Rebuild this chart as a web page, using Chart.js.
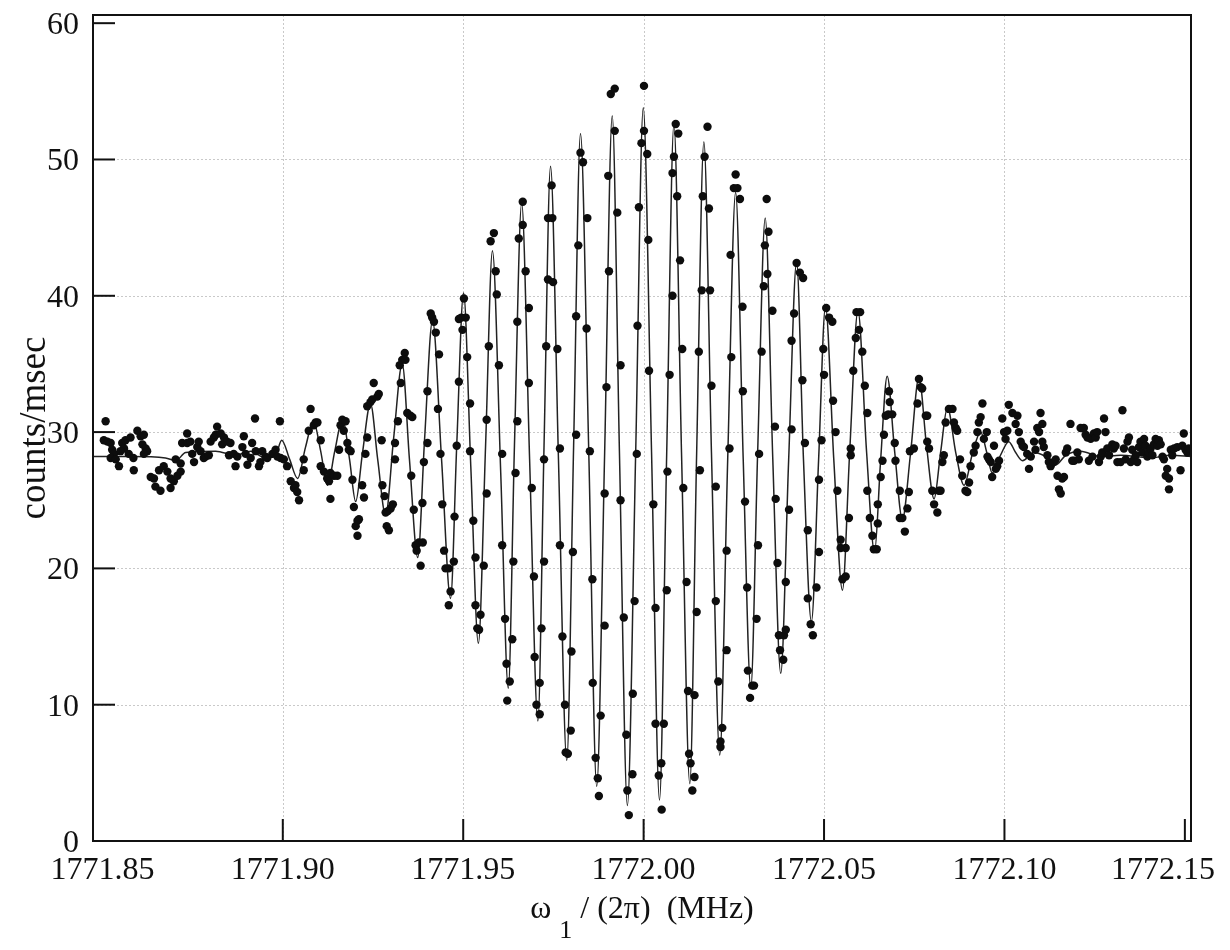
<!DOCTYPE html>
<html>
<head>
<meta charset="utf-8">
<script src="https://cdn.jsdelivr.net/npm/chart.js@4/dist/chart.umd.min.js"></script>
<style>
html,body{margin:0;padding:0;background:#fff;}
canvas{display:block;}
</style>
</head>
<body>
<canvas id="c" width="1230" height="950"></canvas>
<script>
// ---- data ----
const freq = [
1771.8509,1771.8504,1771.8514,1771.8523,1771.8527,1771.8532,1771.8523,1771.8537,1771.8546,1771.8555,
1771.8560,1771.8550,1771.8564,1771.8578,1771.8573,1771.8586,1771.8587,1771.8597,1771.8606,1771.8615,
1771.8611,1771.8620,1771.8624,1771.8615,1771.8634,1771.8643,1771.8647,1771.8661,1771.8657,1771.8670,
1771.8680,1771.8689,1771.8689,1771.8698,1771.8708,1771.8717,1771.8703,1771.8717,1771.8721,1771.8735,
1771.8735,1771.8744,1771.8754,1771.8749,1771.8763,1771.8767,1771.8772,1771.8781,1771.8786,1771.8795,
1771.8800,1771.8809,1771.8818,1771.8814,1771.8828,1771.8832,1771.8837,1771.8846,1771.8855,1771.8851,
1771.8864,1771.8869,1771.8874,1771.8888,1771.8892,1771.8897,1771.8902,1771.8911,1771.8915,1771.8923,
1771.8925,1771.8934,1771.8938,1771.8943,1771.8952,1771.8957,1771.8971,1771.8980,1771.8985,1771.8992,
1771.8994,1771.9003,1771.9012,1771.9022,1771.9031,1771.9035,1771.9045,1771.9040,1771.9058,1771.9058,
1771.9072,1771.9077,1771.9086,1771.9091,1771.9096,1771.9105,1771.9105,1771.9114,1771.9123,1771.9128,
1771.9132,1771.9132,1771.9142,1771.9151,1771.9156,1771.9160,1771.9165,1771.9169,1771.9174,1771.9179,
1771.9183,1771.9188,1771.9193,1771.9197,1771.9202,1771.9207,1771.9207,1771.9211,1771.9220,1771.9225,
1771.9229,1771.9234,1771.9234,1771.9243,1771.9248,1771.9252,1771.9262,1771.9266,
1771.9274,1771.9276,1771.9282,1771.9285,1771.9288,1771.9294,1771.9291,1771.9299,1771.9305,1771.9311,
1771.9311,1771.9319,1771.9327,1771.9324,1771.9331,1771.9338,1771.9340,1771.9345,1771.9354,1771.9359,
1771.9356,1771.9363,1771.9368,1771.9371,1771.9377,1771.9382,1771.9388,1771.9387,1771.9391,1771.9401,
1771.9401,1771.9410,1771.9414,1771.9419,1771.9424,1771.9433,1771.9430,1771.9437,1771.9442,1771.9447,
1771.9451,1771.9460,1771.9465,1771.9460,1771.9474,1771.9476,1771.9482,1771.9488,1771.9488,1771.9495,
1771.9498,1771.9502,1771.9507,1771.9511,1771.9519,1771.9519,1771.9528,1771.9534,1771.9534,1771.9539,
1771.9544,1771.9548,1771.9557,1771.9565,1771.9565,1771.9571,1771.9576,1771.9585,1771.9590,1771.9593,
1771.9599,1771.9608,1771.9608,1771.9616,1771.9620,1771.9622,1771.9629,1771.9636,1771.9639,1771.9645,
1771.9650,1771.9650,1771.9654,
1771.9665,1771.9665,1771.9673,1771.9682,1771.9682,1771.9690,1771.9696,1771.9698,1771.9703,1771.9712,
1771.9712,1771.9717,1771.9724,1771.9724,1771.9730,1771.9735,1771.9747,1771.9735,1771.9749,1771.9745,
1771.9761,1771.9768,1771.9768,1771.9775,1771.9782,1771.9784,1771.9790,1771.9798,1771.9800,1771.9804,
1771.9813,1771.9813,1771.9819,1771.9825,1771.9832,1771.9844,1771.9842,1771.9851,1771.9858,1771.9859,
1771.9867,1771.9873,1771.9876,1771.9881,1771.9892,1771.9892,1771.9897,1771.9904,1771.9902,1771.9909,
1771.9920,1771.9920,1771.9927,1771.9936,1771.9936,1771.9945,1771.9952,1771.9955,1771.9959,1771.9969,
1771.9970,1771.9975,1771.9981,1771.9983,1771.9987,1771.9994,1772.0001,1772.0001,1772.0010,1772.0013,
1772.0015,
1772.0027,1772.0033,1772.0033,1772.0042,1772.0049,1772.0050,1772.0056,1772.0064,1772.0066,1772.0072,
1772.0080,1772.0080,1772.0084,1772.0089,1772.0096,1772.0093,1772.0101,1772.0107,1772.0110,1772.0119,
1772.0123,1772.0126,1772.0130,1772.0135,1772.0141,1772.0141,1772.0147,1772.0156,1772.0153,1772.0161,
1772.0164,1772.0169,1772.0177,1772.0184,1772.0181,1772.0188,1772.0200,1772.0200,1772.0207,1772.0213,
1772.0213,1772.0218,1772.0230,1772.0230,1772.0238,1772.0243,1772.0241,1772.0250,1772.0255,1772.0260,
1772.0267,1772.0274,1772.0275,1772.0281,1772.0287,1772.0289,1772.0295,1772.0301,1772.0306,1772.0313,
1772.0317,1772.0320,1772.0327,1772.0333,1772.0336,1772.0341,1772.0343,1772.0346,1772.0357,1772.0364,
1772.0366,1772.0371,1772.0375,1772.0378,
1772.0387,1772.0389,1772.0394,1772.0394,1772.0403,1772.0410,1772.0410,1772.0417,1772.0424,1772.0433,
1772.0442,1772.0440,1772.0447,1772.0455,1772.0455,1772.0463,1772.0469,1772.0479,1772.0486,1772.0486,
1772.0493,1772.0500,1772.0498,1772.0506,1772.0514,1772.0523,1772.0525,1772.0532,1772.0537,1772.0546,
1772.0546,1772.0551,1772.0560,1772.0560,1772.0569,1772.0574,1772.0574,1772.0581,1772.0588,1772.0590,
1772.0600,1772.0597,1772.0606,1772.0613,1772.0620,1772.0620,1772.0627,1772.0634,1772.0638,1772.0646,
1772.0649,1772.0649,1772.0657,1772.0662,1772.0666,1772.0671,1772.0678,1772.0680,1772.0682,1772.0689,
1772.0696,1772.0698,1772.0710,1772.0710,1772.0717,1772.0724,1772.0731,1772.0735,1772.0738,
1772.0749,1772.0759,1772.0763,1772.0768,1772.0772,1772.0782,1772.0786,1772.0786,1772.0791,1772.0800,
1772.0805,1772.0814,1772.0818,1772.0823,1772.0828,1772.0832,1772.0837,1772.0846,1772.0856,1772.0860,
1772.0865,1772.0869,1772.0877,1772.0883,1772.0892,1772.0897,1772.0902,1772.0906,1772.0915,1772.0920,
1772.0925,1772.0929,1772.0934,1772.0939,1772.0943,1772.0951,1772.0953,1772.0957,1772.0962,1772.0966,
1772.0971,1772.0976,1772.0980,1772.0985,1772.0994,1772.0999,1772.1003,1772.1008,1772.1012,1772.1022,
1772.1031,1772.1036,1772.1040,1772.1045,1772.1050,1772.1054,1772.1063,1772.1068,1772.1073,1772.1082,
1772.1086,1772.1091,1772.1096,1772.1100,1772.1105,1772.1105,1772.1109,1772.1119,1772.1123,1772.1128,
1772.1137,1772.1142,1772.1147,1772.1151,1772.1156,1772.1160,1772.1165,1772.1170,1772.1174,1772.1183,
1772.1188,1772.1193,1772.1202,1772.1206,1772.1211,1772.1220,1772.1225,1772.1230,1772.1234,1772.1239,
1772.1244,1772.1248,1772.1253,1772.1257,1772.1262,1772.1267,1772.1271,1772.1276,1772.1280,1772.1285,
1772.1290,1772.1299,1772.1303,1772.1308,1772.1313,1772.1322,1772.1327,1772.1331,1772.1336,1772.1341,
1772.1345,1772.1350,1772.1354,1772.1359,1772.1364,1772.1368,1772.1373,1772.1377,1772.1382,1772.1387,
1772.1391,1772.1396,1772.1400,1772.1405,1772.1410,1772.1414,1772.1419,1772.1424,1772.1428,1772.1433,
1772.1438,1772.1442,1772.1447,1772.1451,1772.1456,1772.1456,1772.1461,1772.1465,1772.1470,1772.1479,
1772.1488,1772.1493,1772.1497,1772.1502,1772.1507,1772.1511
];
const counts = [
30.8,29.4,29.3,29.2,28.7,28.4,28.1,28.0,27.5,29.2,
28.8,28.6,29.4,29.6,28.4,28.1,27.2,30.1,29.7,29.8,
29.1,28.8,28.6,28.4,26.7,26.6,26.0,25.7,27.2,27.5,
27.1,26.6,25.9,26.4,26.8,27.1,28.0,27.7,29.2,29.9,
29.2,29.3,27.8,28.4,28.9,29.3,28.6,28.1,28.2,28.3,
29.3,29.6,30.4,29.8,29.9,29.1,29.6,29.3,29.2,28.3,
28.4,27.5,28.2,28.9,29.7,28.4,27.6,28.1,29.2,31.0,
28.6,27.5,27.8,28.6,28.2,28.1,28.4,28.7,28.2,30.8,
28.1,28.0,27.5,26.4,25.9,26.1,25.0,25.6,28.0,27.2,
30.1,31.7,30.5,30.7,30.7,29.4,27.5,27.1,26.6,26.4,
27.0,25.1,26.8,26.8,28.7,30.5,30.9,30.1,30.8,29.2,
28.7,28.6,26.5,24.5,23.1,23.5,22.4,23.6,26.1,25.2,
28.4,29.6,31.9,32.2,32.4,33.6,32.6,32.8,
29.4,26.1,25.3,24.1,23.1,22.8,24.2,24.4,24.7,28.0,
29.2,30.8,33.6,34.9,35.3,35.8,35.3,31.4,31.2,31.1,
26.8,24.3,21.7,21.3,21.9,20.2,21.9,24.8,27.8,29.2,
33.0,38.7,38.4,38.1,37.3,35.7,31.7,28.4,24.7,21.3,
20.0,20.0,18.3,17.3,20.5,23.8,29.0,33.7,38.3,38.4,
37.5,39.8,38.4,35.5,32.1,28.6,23.5,20.8,17.3,15.6,
15.5,16.6,20.2,25.5,30.9,36.3,44.0,44.6,41.8,40.1,
34.9,28.4,21.7,16.3,13.0,10.3,11.7,14.8,20.5,27.0,
30.8,38.1,44.2,
46.9,45.2,41.8,39.1,33.6,25.9,19.4,13.5,10.0,9.3,
11.6,15.6,20.5,28.0,36.3,45.7,45.7,41.2,41.0,48.1,
36.1,28.8,21.7,15.0,10.0,6.5,6.4,8.1,13.9,21.2,
29.8,38.5,43.7,50.5,49.8,45.7,37.6,28.6,19.2,11.6,
6.1,4.6,3.3,9.2,15.8,25.5,33.3,41.8,48.8,54.8,
55.2,52.1,46.1,34.9,25.0,16.4,7.8,3.7,1.9,4.9,
10.8,17.6,28.4,37.8,46.5,51.2,55.4,52.1,50.4,44.1,
34.5,
24.7,17.1,8.6,4.8,5.7,2.3,8.6,18.4,27.1,34.2,
40.0,49.0,50.2,52.6,51.9,47.3,42.6,36.1,25.9,19.0,
11.0,6.4,5.7,3.7,10.7,4.7,16.8,27.2,35.9,40.4,
47.3,50.2,52.4,40.4,46.4,33.4,26.0,17.6,11.7,7.3,
6.9,8.3,14.0,21.3,28.8,35.5,43.0,47.9,48.9,47.9,
47.1,39.2,33.0,24.9,18.6,12.5,10.5,11.4,11.4,16.3,
21.7,28.4,35.9,40.7,43.7,47.1,41.6,44.7,38.9,30.4,
25.1,20.4,15.1,14.0,
13.3,15.1,15.5,19.0,24.3,30.2,36.7,38.7,42.4,41.7,
41.3,33.8,29.2,22.8,17.8,15.9,15.1,18.6,21.2,26.5,
29.4,34.2,36.1,39.1,38.4,38.1,32.3,30.0,25.7,22.1,
21.5,19.2,19.4,21.5,23.7,28.3,28.8,34.5,36.9,38.8,
38.8,37.5,35.9,33.4,31.4,25.7,23.7,22.4,21.4,21.4,
23.3,24.7,26.7,27.9,29.8,31.2,31.3,33.0,32.2,31.3,
29.2,27.9,25.7,23.7,23.7,22.7,24.4,25.6,28.6,
28.8,32.1,33.9,33.3,33.2,31.2,31.2,29.3,28.8,25.7,
24.7,24.1,25.7,25.7,27.8,28.3,30.7,31.7,31.7,30.7,
30.3,30.1,28.0,26.8,25.7,25.6,26.3,27.5,28.5,29.0,
30.0,30.7,31.1,32.1,29.5,30.0,28.2,28.0,27.8,26.7,
29.0,27.3,27.5,27.9,31.0,30.0,29.5,30.1,32.0,31.4,
30.6,31.2,30.0,29.3,29.0,28.9,28.4,27.3,28.2,29.3,
28.7,30.3,30.0,31.4,30.6,29.3,28.9,28.3,27.8,27.5,
27.8,28.0,26.8,25.8,25.5,26.6,26.7,28.5,28.8,30.6,
27.9,27.9,28.5,28.0,30.3,30.3,29.8,29.6,27.9,29.5,
28.2,29.9,29.6,30.0,27.8,28.2,28.5,31.0,30.0,28.8,
28.3,29.1,28.8,29.0,27.8,27.8,31.6,28.8,28.0,29.3,
29.6,27.8,28.7,28.0,28.3,27.8,28.9,29.3,28.5,29.5,
29.0,28.2,28.5,28.8,28.3,29.1,29.5,29.0,29.4,29.1,
28.2,28.0,26.8,27.3,26.6,25.8,28.7,28.3,28.8,28.9,
27.2,29.0,29.9,28.7,28.5,28.8
];
// fitted line (theory curve)
const fitFreq = [
1771.8476,1771.8578,1771.8675,1771.8703,1771.8731,1771.8814,1771.8869,1771.8911,1771.8952,1771.8980,
1771.8997,1771.9019,1771.9041,1771.9063,1771.9085,1771.9105,1771.9124,1771.9144,1771.9166,1771.9185,
1771.9202,1771.9221,1771.9243,1771.9263,1771.9285,1771.9307,1771.9331,1771.9351,1771.9374,1771.9393,
1771.9415,1771.9440,1771.9465,1771.9482,1771.9501,1771.9521,1771.9542,1771.9562,1771.9581,1771.9604,
1771.9625,1771.9642,1771.9662,1771.9684,1771.9707,1771.9724,1771.9742,1771.9764,1771.9787,1771.9806,
1771.9825,1771.9848,1771.9870,1771.9892,1771.9913,1771.9933,1771.9955,1771.9978,1771.9999,1772.0022,
1772.0044,1772.0064,1772.0084,1772.0105,1772.0128,1772.0147,1772.0167,1772.0188,1772.0211,1772.0233,
1772.0255,1772.0276,1772.0297,1772.0316,1772.0337,1772.0358,1772.0380,1772.0402,1772.0424,1772.0443,
1772.0465,1772.0485,1772.0504,1772.0527,1772.0551,1772.0571,1772.0594,1772.0618,1772.0640,1772.0657,
1772.0675,1772.0696,1772.0717,1772.0740,1772.0763,1772.0784,1772.0805,1772.0823,1772.0842,1772.0865,
1772.0888,1772.0912,1772.0934,1772.0951,1772.0966,1772.0989,1772.1012,1772.1031,1772.1050,1772.1081,
1772.1114,1772.1142,1772.1170,1772.1211,1772.1267,1772.1322,1772.1405,1772.1461,1772.1517
];
const fitCounts = [
28.2,28.2,28.1,27.9,28.5,28.6,28.3,28.6,28.1,28.3,
29.4,28.0,26.6,28.9,30.8,28.6,26.1,28.6,31.0,28.0,
24.9,28.5,32.1,28.0,23.9,29.5,35.0,28.0,20.8,29.5,
38.2,28.0,17.8,29.0,40.2,27.5,14.5,29.0,43.3,27.0,
11.2,29.0,46.8,28.0,8.8,29.0,49.5,28.0,5.9,29.0,
51.9,28.5,4.0,28.5,53.2,28.5,2.6,28.5,53.8,28.5,
3.0,28.5,52.6,28.5,4.2,28.5,51.3,28.5,6.3,28.0,
47.6,28.0,11.2,28.5,45.7,28.0,12.3,28.0,42.5,28.0,
16.1,28.0,39.2,28.0,18.4,28.5,38.9,28.5,21.2,28.0,
34.1,28.5,23.6,28.5,34.0,29.0,25.1,28.5,31.8,28.5,
26.1,28.5,30.0,28.5,27.0,28.3,29.3,28.5,27.9,28.5,
28.2,27.6,28.3,28.6,28.2,28.3,28.1,28.3,28.2
];
// axes
const xMin = 1771.8474, xMax = 1772.1517;
const yMin = 0, yMax = 60.6;
const xTickValues = [1771.85, 1771.90, 1771.95, 1772.00, 1772.05, 1772.10, 1772.15];
const xTickLabels = ['1771.85', '1771.90', '1771.95', '1772.00', '1772.05', '1772.10', '1772.15'];
const xGridValues = [1771.90, 1771.95, 1772.00, 1772.05, 1772.10];
const xTickMarks = [1771.90, 1771.95, 1772.00, 1772.05, 1772.10, 1772.15];
const yTickValues = [0, 10, 20, 30, 40, 50, 60];
const yTickLabels = ['0', '10', '20', '30', '40', '50', '60'];
const yGridValues = [10, 20, 30, 40, 50];
const yTickMarks = [10, 20, 30, 40, 50, 60];
const yTitle = 'counts/msec';

const FONT = '"Liberation Serif", "Times New Roman", Times, serif';

const framePlugin = {
  id: 'framePlugin',
  beforeDatasetsDraw(chart) {
    const {ctx, chartArea: a, scales: {x, y}} = chart;
    ctx.save();
    ctx.strokeStyle = '#c9c9c9';
    ctx.lineWidth = 1;
    ctx.setLineDash([2, 2]);
    xGridValues.forEach(v => {
      const px = Math.round(x.getPixelForValue(v)) + 0.5;
      ctx.beginPath(); ctx.moveTo(px, a.top); ctx.lineTo(px, a.bottom); ctx.stroke();
    });
    yGridValues.forEach(v => {
      const py = Math.round(y.getPixelForValue(v)) + 0.5;
      ctx.beginPath(); ctx.moveTo(a.left, py); ctx.lineTo(a.right, py); ctx.stroke();
    });
    ctx.restore();
  },
  afterDatasetsDraw(chart) {
    const {ctx, chartArea: a, scales: {x, y}} = chart;
    ctx.save();
    ctx.strokeStyle = '#111';
    ctx.lineWidth = 2;
    ctx.setLineDash([]);
    ctx.strokeRect(a.left, a.top, a.right - a.left, a.bottom - a.top);
    const TL = 22;
    xTickMarks.forEach(v => {
      const px = x.getPixelForValue(v);
      ctx.beginPath(); ctx.moveTo(px, a.bottom); ctx.lineTo(px, a.bottom - TL); ctx.stroke();
    });
    yTickMarks.forEach(v => {
      const py = y.getPixelForValue(v);
      ctx.beginPath(); ctx.moveTo(a.left, py); ctx.lineTo(a.left + TL, py); ctx.stroke();
    });
    // tick labels
    ctx.fillStyle = '#111';
    ctx.font = '32px ' + FONT;
    ctx.textBaseline = 'alphabetic';
    const W = chart.width;
    xTickValues.forEach((v, i) => {
      const t = xTickLabels[i];
      const w = ctx.measureText(t).width;
      let cx = x.getPixelForValue(v);
      if (cx + w / 2 > W - 15) cx = W - 15 - w / 2;
      ctx.textAlign = 'center';
      ctx.fillText(t, cx, a.bottom + 38);
    });
    ctx.textAlign = 'right';
    yTickValues.forEach((v, i) => {
      ctx.fillText(yTickLabels[i], a.left - 14, y.getPixelForValue(v) + 11);
    });
    // y title
    ctx.save();
    ctx.translate(35, (a.top + a.bottom) / 2);
    ctx.rotate(-Math.PI / 2);
    ctx.textAlign = 'center';
    ctx.textBaseline = 'middle';
    ctx.font = '37px ' + FONT;
    ctx.fillText(yTitle, 0, 0);
    ctx.restore();
    // x title: ω₁ / (2π)  (MHz)
    const base = a.bottom + 77;
    ctx.textAlign = 'left';
    const p1 = '\u03C9', p3 = '/ (2\u03C0)  (MHz)';
    ctx.font = '32px ' + FONT; const w1 = ctx.measureText(p1).width;
    ctx.font = '26px ' + FONT; const w2 = ctx.measureText('1').width;
    ctx.font = '32px ' + FONT; const w3 = ctx.measureText(p3).width;
    const gap1 = 8, gap2 = 8;
    const total = w1 + gap1 + w2 + gap2 + w3;
    let sx = (a.left + a.right) / 2 - total / 2;
    ctx.fillText(p1, sx, base);
    sx += w1 + gap1;
    ctx.font = '26px ' + FONT;
    ctx.fillText('1', sx, base + 20);
    sx += w2 + gap2;
    ctx.font = '32px ' + FONT;
    ctx.fillText(p3, sx, base);
    ctx.restore();
  }
};

const points = freq.map((f, i) => ({x: f, y: counts[i]}));
const fit = fitFreq.map((f, i) => ({x: f, y: fitCounts[i]}));

new Chart(document.getElementById('c'), {
  type: 'scatter',
  data: {
    datasets: [
      {
        type: 'line',
        label: 'fit',
        data: fit,
        borderColor: '#222',
        borderWidth: 1.5,
        pointRadius: 0,
        fill: false,
        cubicInterpolationMode: 'monotone',
        order: 2
      },
      {
        type: 'scatter',
        label: 'data',
        data: points,
        backgroundColor: '#0d0d0d',
        borderColor: '#0d0d0d',
        borderWidth: 0,
        pointRadius: 4.2,
        order: 1
      }
    ]
  },
  options: {
    responsive: false,
    animation: false,
    events: [],
    layout: {padding: {top: 15, right: 39, left: 0, bottom: 0}},
    plugins: {legend: {display: false}, tooltip: {enabled: false}, title: {display: false}},
    scales: {
      x: {
        type: 'linear', min: xMin, max: xMax,
        grid: {display: false}, border: {display: false},
        ticks: {display: false},
        afterFit(s) { s.height = 109; }
      },
      y: {
        type: 'linear', min: yMin, max: yMax,
        grid: {display: false}, border: {display: false},
        ticks: {display: false},
        afterFit(s) { s.width = 93; }
      }
    }
  },
  plugins: [framePlugin]
});
</script>
</body>
</html>
